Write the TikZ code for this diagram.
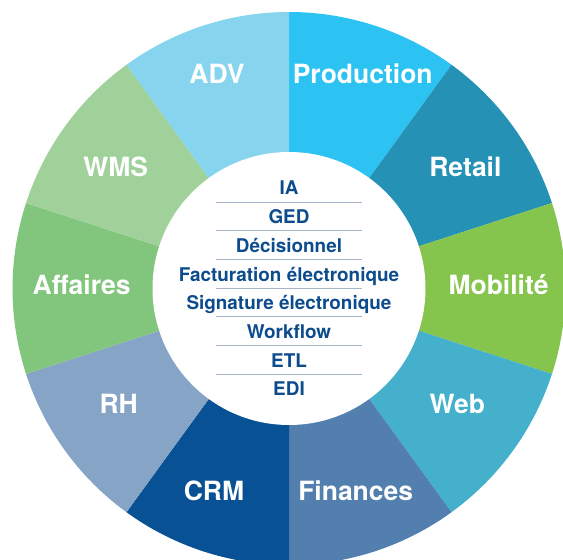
\documentclass[tikz,border=0pt]{standalone}
\usepackage{fontspec}
\setmainfont{TeX Gyre Heros}
\definecolor{cADV}{HTML}{87D4EF}
\definecolor{cProd}{HTML}{2CC3F3}
\definecolor{cRetail}{HTML}{2591B5}
\definecolor{cMob}{HTML}{85C44D}
\definecolor{cWeb}{HTML}{44B0CB}
\definecolor{cFin}{HTML}{537FAE}
\definecolor{cCRM}{HTML}{075194}
\definecolor{cRH}{HTML}{86A4C6}
\definecolor{cAff}{HTML}{82C67E}
\definecolor{cWMS}{HTML}{A0D19B}
\definecolor{itemblue}{HTML}{0C4C8C}
\definecolor{sepgray}{HTML}{A6B6C8}
\begin{document}
\begin{tikzpicture}[x=1pt,y=1pt,
  seclabel/.style={text=white,font=\fontsize{26.5}{30}\selectfont\bfseries,anchor=base,inner sep=0pt},
  item/.style={text=itemblue,font=\fontsize{18.9}{22}\selectfont\bfseries,anchor=base,inner sep=0pt},
  sepline/.style={draw=sepgray,line width=1pt}]
\useasboundingbox (0,0) rectangle (563,560);
\clip (0,0) rectangle (563,560);
\coordinate (c) at (289,271.5);
\def\Ro{276.5}
\def\Ri{136.5}
\foreach \a/\col in {54/cProd,18/cRetail,-18/cMob,-54/cWeb,-90/cFin,-126/cCRM,-162/cRH,162/cAff,126/cWMS,90/cADV}{
  \fill[\col] (c) -- ++(\a:\Ro) arc[start angle=\a, end angle=\a+36, radius=\Ro] -- cycle;
}
\fill[white] (c) circle[radius=\Ri];
% sector labels
\node[seclabel] (adv) at (217,476.5) {ADV};
\node[seclabel] (prod) at (362.7,476.5) {Production};
\node[seclabel] (wms) at (115.7,383) {WMS};
\node[seclabel] (retail) at (465.4,383) {Retail};
\node[seclabel] (aff) at (81.7,265.7) {Affaires};
\node[seclabel] (mob) at (498.5,265.7) {Mobilité};
\node[seclabel] (rh) at (118.7,146.7) {RH};
\node[seclabel] (web) at (457.3,146.7) {Web};
\node[seclabel] (crm) at (214,59.3) {CRM};
\node[seclabel] (fin) at (355.7,59.3) {Finances};
% centre list
\foreach \t [count=\k from 0] in {IA,GED,Décisionnel,Facturation électronique,Signature électronique,Workflow,ETL,EDI}{
  \node[item] (it\k) at (289,365-28.67*\k) {\t};
}
\foreach \k in {0,...,6}{
  \coordinate (l\k a) at (216,357.7-28.67*\k);
  \coordinate (l\k b) at (362,357.7-28.67*\k);
  \draw[sepline] (l\k a) -- (l\k b);
}
\end{tikzpicture}
\end{document}
